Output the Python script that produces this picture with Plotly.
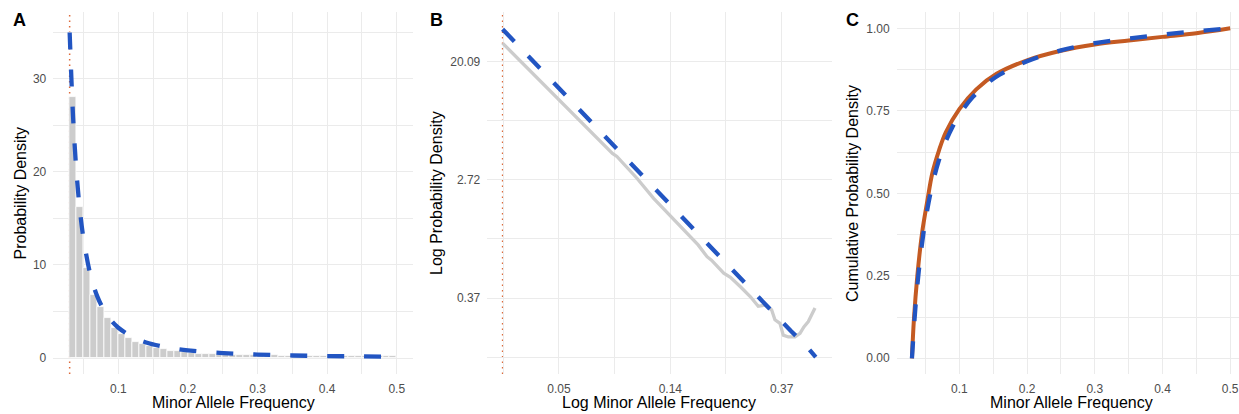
import numpy as np
import plotly.graph_objects as go

# ---------------- data ----------------
maf_threshold = 0.03

# Histogram of minor allele frequency (bin width 0.01, left edges)
hist_bin_left = [0.03, 0.04, 0.05, 0.06, 0.07, 0.08, 0.09, 0.10, 0.11, 0.12,
                 0.13, 0.14, 0.15, 0.16, 0.17, 0.18, 0.19, 0.20, 0.21, 0.22,
                 0.23, 0.24, 0.25, 0.26, 0.27, 0.28, 0.29, 0.30, 0.31, 0.32,
                 0.33, 0.34, 0.35, 0.36, 0.37, 0.38, 0.39, 0.40, 0.41, 0.42,
                 0.43, 0.44, 0.45, 0.46, 0.47, 0.48, 0.49]
hist_density = [28.1, 16.2, 9.7, 6.8, 5.5, 4.3, 3.2, 2.6, 2.15, 1.75,
                1.55, 1.3, 1.05, 0.93, 0.8, 0.7, 0.6, 0.52, 0.46, 0.44,
                0.42, 0.4, 0.38, 0.36, 0.34, 0.33, 0.32, 0.3, 0.29, 0.28,
                0.26, 0.25, 0.24, 0.23, 0.22, 0.21, 0.2, 0.2, 0.19, 0.19,
                0.19, 0.2, 0.2, 0.21, 0.22, 0.23, 0.25]

# Fitted power-law density
fit_maf = [0.03, 0.035, 0.04, 0.045, 0.05, 0.06, 0.07, 0.08, 0.09, 0.10,
           0.12, 0.14, 0.16, 0.18, 0.20, 0.25, 0.30, 0.35, 0.40, 0.45, 0.50]
fit_density = [35.0, 25.8, 19.8, 15.7, 12.8, 8.9, 6.57, 5.05, 4.0, 3.25,
               2.27, 1.67, 1.29, 1.02, 0.83, 0.53, 0.37, 0.27, 0.21, 0.17, 0.135]

# Observed density on log-log scale
obs_log_maf = [-3.507, -3.30, -3.10, -2.90, -2.70, -2.52, -2.48, -2.30, -2.15,
               -2.00, -1.82, -1.75, -1.67, -1.63, -1.52, -1.46, -1.37, -1.28,
               -1.21, -1.15, -1.09, -1.06, -1.015, -0.985, -0.94, -0.88,
               -0.835, -0.80, -0.76, -0.71, -0.70]
obs_log_density = [3.32, 2.93, 2.55, 2.17, 1.79, 1.45, 1.40, 1.03, 0.69,
                   0.39, 0.04, -0.10, -0.30, -0.36, -0.58, -0.65, -0.81, -0.98,
                   -1.14, -1.12, -1.20, -1.37, -1.43, -1.63, -1.66, -1.66,
                   -1.60, -1.49, -1.40, -1.22, -1.17]

# Cumulative distributions
ecdf_maf = [0.03, 0.033, 0.038, 0.045, 0.053, 0.06, 0.07, 0.08, 0.10, 0.125,
            0.155, 0.20, 0.25, 0.30, 0.35, 0.40, 0.45, 0.50]
ecdf_prob = [0.0, 0.12, 0.25, 0.38, 0.48, 0.56, 0.63, 0.685, 0.755, 0.815,
             0.862, 0.903, 0.932, 0.951, 0.963, 0.974, 0.985, 1.0]
fit_cdf_maf = [0.03, 0.035, 0.04, 0.045, 0.05, 0.06, 0.07, 0.08, 0.09, 0.10,
               0.12, 0.14, 0.16, 0.20, 0.25, 0.30, 0.35, 0.40, 0.45, 0.50]
fit_cdf_prob = [0.0, 0.150, 0.262, 0.349, 0.419, 0.525, 0.601, 0.658, 0.702,
                0.738, 0.792, 0.831, 0.860, 0.900, 0.933, 0.955, 0.969, 0.981,
                0.991, 1.0]

# Tick labels
maf_ticks = [0.1, 0.2, 0.3, 0.4, 0.5]
maf_ticktext = ["0.1", "0.2", "0.3", "0.4", "0.5"]
dens_ticks = [0, 10, 20, 30]
log_maf_ticks = [-3, -2, -1]
log_maf_ticktext = ["0.05", "0.14", "0.37"]
log_dens_ticks = [-1, 1, 3]
log_dens_ticktext = ["0.37", "2.72", "20.09"]
cdf_ticks = [0, 0.25, 0.5, 0.75, 1.0]
cdf_ticktext = ["0.00", "0.25", "0.50", "0.75", "1.00"]

# ---------------- style ----------------
W, H = 1239, 414
FONT = "Liberation Sans, Arial, Helvetica, sans-serif"
BLUE = "#2255C2"
ORANGE = "#C45A22"
VLINE = "#DD6A3A"
GREY = "#CCCCCC"
GRID = "#EBEBEB"
TICKCOL = "#4D4D4D"
DASH = "17px,20px"


def px_x(p):
    return p / W


def px_y(p):
    return 1 - p / H


ydom = [px_y(374), px_y(12)]

fig = go.Figure()

# Panel A
fig.add_trace(go.Bar(x=hist_bin_left, y=hist_density, width=0.01, offset=0,
                     marker=dict(color=GREY, line=dict(color="white", width=0.8)),
                     xaxis="x", yaxis="y", showlegend=False))
fig.add_trace(go.Scatter(x=fit_maf, y=fit_density, mode="lines",
                         line=dict(color=BLUE, width=4.3, dash=DASH, shape="spline"),
                         xaxis="x", yaxis="y", showlegend=False))

# Panel B
fig.add_trace(go.Scatter(x=obs_log_maf, y=obs_log_density, mode="lines",
                         line=dict(color=GREY, width=3.3),
                         xaxis="x2", yaxis="y2", showlegend=False))
fig.add_trace(go.Scatter(x=np.log(fit_maf), y=np.log(fit_density), mode="lines",
                         line=dict(color=BLUE, width=4.3, dash=DASH),
                         xaxis="x2", yaxis="y2", showlegend=False))

# Panel C
fig.add_trace(go.Scatter(x=ecdf_maf, y=ecdf_prob, mode="lines",
                         line=dict(color=ORANGE, width=4, shape="spline"),
                         xaxis="x3", yaxis="y3", showlegend=False))
fig.add_trace(go.Scatter(x=fit_cdf_maf, y=fit_cdf_prob, mode="lines",
                         line=dict(color=BLUE, width=4.3, dash=DASH, shape="spline"),
                         xaxis="x3", yaxis="y3", showlegend=False))

# MAF threshold markers
for xa, ya, xv in (("x", "y", maf_threshold),
                   ("x2", "y2", float(np.log(maf_threshold)))):
    fig.add_shape(type="line", xref=xa, yref=ya + " domain",
                  x0=xv, x1=xv, y0=0, y1=1, layer="below",
                  line=dict(color=VLINE, width=1.5, dash="1.5px,4px"))

common = dict(showline=False, zeroline=False, ticks="", showgrid=True,
              gridcolor=GRID, gridwidth=1.3,
              tickfont=dict(family=FONT, size=12, color=TICKCOL))


def minor(vals):
    return dict(tickvals=vals, showgrid=True, gridcolor=GRID, gridwidth=1.0, ticks="")


fig.update_layout(
    width=W, height=H,
    margin=dict(l=0, r=0, t=0, b=0),
    paper_bgcolor="white", plot_bgcolor="white",
    bargap=0,
    font=dict(family=FONT),
    xaxis=dict(domain=[px_x(53.3), px_x(413.1)], range=[0.0065, 0.5235],
               tickvals=maf_ticks, ticktext=maf_ticktext,
               minor=minor([0.05, 0.15, 0.25, 0.35, 0.45]),
               anchor="y", ticklabelstandoff=6, **common),
    yaxis=dict(domain=ydom, range=[-1.72, 37.2], tickvals=dens_ticks,
               minor=minor([5, 15, 25, 35]),
               anchor="x", ticklabelstandoff=6, **common),
    xaxis2=dict(domain=[px_x(487.3), px_x(831.6)], range=[-3.644, -0.551],
                tickvals=log_maf_ticks, ticktext=log_maf_ticktext,
                minor=minor([-3.5, -2.5, -1.5]),
                anchor="y2", ticklabelstandoff=6, **common),
    yaxis2=dict(domain=ydom, range=[-2.288, 3.847], tickvals=log_dens_ticks,
                ticktext=log_dens_ticktext, minor=minor([-2, 0, 2]),
                anchor="x2", ticklabelstandoff=6, **common),
    xaxis3=dict(domain=[px_x(896.7), 1.0], range=[0.0075, 0.513],
                tickvals=maf_ticks, ticktext=maf_ticktext,
                minor=minor([0.05, 0.15, 0.25, 0.35, 0.45]),
                anchor="y3", ticklabelstandoff=6, **common),
    yaxis3=dict(domain=ydom, range=[-0.0476, 1.0494], tickvals=cdf_ticks,
                ticktext=cdf_ticktext, minor=minor([0.125, 0.375, 0.625, 0.875]),
                anchor="x3", ticklabelstandoff=6, **common),
)

title_font = dict(family=FONT, size=16, color="black")
annotations = [
    # x-axis titles
    dict(text="Minor Allele Frequency", x=px_x(233), y=px_y(402)),
    dict(text="Log Minor Allele Frequency", x=px_x(659), y=px_y(402)),
    dict(text="Minor Allele Frequency", x=px_x(1071), y=px_y(402)),
    # y-axis titles
    dict(text="Probability Density", x=px_x(19.5), y=px_y(193), textangle=-90),
    dict(text="Log Probability Density", x=px_x(436), y=px_y(193), textangle=-90),
    dict(text="Cumulative Probability Density", x=px_x(852), y=px_y(194), textangle=-90),
]
for a in annotations:
    fig.add_annotation(xref="paper", yref="paper", showarrow=False,
                       xanchor="center", yanchor="middle", font=title_font, **a)

for lab, xc in (("A", 19.5), ("B", 436.5), ("C", 852.5)):
    fig.add_annotation(text="<b>%s</b>" % lab, xref="paper", yref="paper",
                       x=px_x(xc), y=px_y(20), showarrow=False,
                       xanchor="center", yanchor="middle",
                       font=dict(family=FONT, size=18, color="black"))

fig.write_html("out.html")
